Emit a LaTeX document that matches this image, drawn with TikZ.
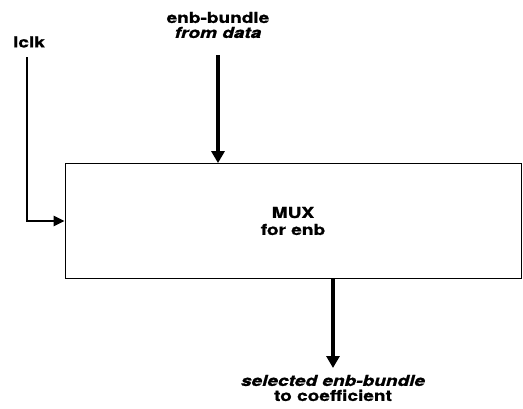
\documentclass[tikz,border=0pt]{standalone}
\usepackage{fontspec}
\setmainfont[FakeStretch=1.27, BoldFeatures={FakeBold=1.2}, BoldItalicFeatures={FakeBold=1.2}]{TeX Gyre Heros}
\usetikzlibrary{arrows.meta}
\tikzset{
    bus/.style={line width=3.8pt, -{Triangle[width=13pt,length=12pt]}},
    wire/.style={line width=2.6pt, -{Triangle[width=10pt,length=11pt]}},
    lbl/.style={font=\fontsize{15}{15}\selectfont\bfseries, align=center, inner sep=0pt}
}
\begin{document}
\begin{tikzpicture}[x=1pt, y=-1pt]
                \useasboundingbox ( 0, 0 ) rectangle ( 523, 408 );
% прямоугольник
                \node [draw, line width=0.8pt, minimum width=456pt, minimum height=115pt,
                       lbl] (mux) at ( 293, 221 ) {MUX\\[2pt]for enb};
% подписи
                \node [lbl] (lclk) at ( 29, 42 ) {lclk};
                \node [lbl] (data) at ( 218, 25 ) {enb-bundle\\\itshape from data};
                \node [lbl] (coef) at ( 333, 388 ) {\itshape selected enb-bundle\\to coefficient};
% концы
                \coordinate (lclk-in) at ( 27, 57 );
                \coordinate (data-in) at ( 218, 55 );
                \coordinate (coef-out) at ( 333, 368 );
% стрелки
                \draw [wire] (lclk-in) |- (mux.west);
                \draw [bus] (data-in) -- (data-in |- mux.north);
                \draw [bus] (coef-out |- mux.south) -- (coef-out);
\end{tikzpicture}
\end{document}
